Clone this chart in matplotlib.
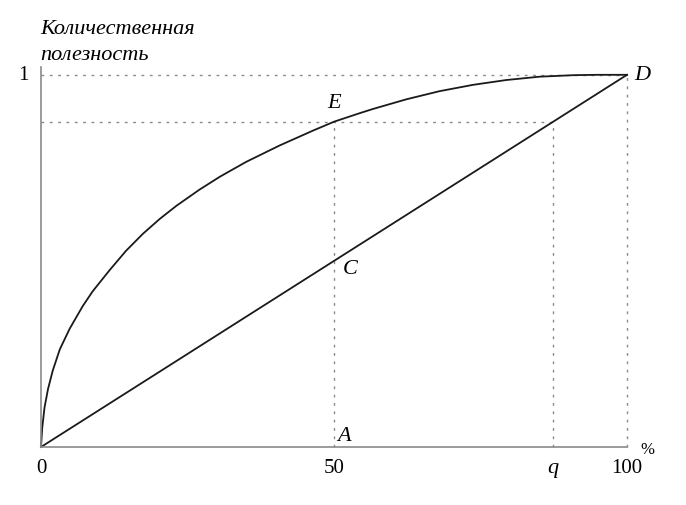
import matplotlib
matplotlib.use("Agg")
import matplotlib.pyplot as plt

# кривая количественной полезности (x в %, y в долях)
curve_x = [0, 0.2, 0.6, 1.2, 2.0, 3.2, 4.9, 7.1, 8.8, 11.7, 14.5, 17.4, 20.2, 23.1,
           27.0, 30.5, 35.0, 40.7, 46.4, 50.0, 54.4, 56.6, 62.3, 68.0, 73.7, 79.4,
           85.1, 90.8, 95.0, 100]
curve_y = [0, 0.050, 0.106, 0.156, 0.205, 0.262, 0.318, 0.378, 0.418, 0.475, 0.527,
           0.573, 0.612, 0.648, 0.691, 0.726, 0.766, 0.810, 0.850, 0.874, 0.897,
           0.908, 0.934, 0.956, 0.973, 0.986, 0.995, 0.999, 1.0, 1.0]
line_x = [0, 100]
line_y = [0, 1]

e_x, e_y = 50, 0.874
q_x = 87.4
d_x, d_y = 100, 1.0
x_ticks = [0, 50, 100]

plt.rcParams["font.family"] = ["Liberation Serif", "DejaVu Serif"]

fig = plt.figure(figsize=(6.86, 5.06), dpi=100)
ax = fig.add_axes([41 / 686, 58 / 506, 586 / 686, 380 / 506])
ax.set_xlim(0, 100)
ax.set_ylim(0, 1.021)
for s in ["top", "right"]:
    ax.spines[s].set_visible(False)
for s in ["left", "bottom"]:
    ax.spines[s].set_color("#8a8a8a")
    ax.spines[s].set_linewidth(1.2)
ax.set_xticks([])
ax.set_yticks([])

# пунктирные направляющие
dot = dict(color="#8a8a8a", lw=1.0, ls=(0, (2, 4)), clip_on=False)
ax.plot([0, d_x], [d_y, d_y], **dot)
ax.plot([0, q_x], [e_y, e_y], **dot)
ax.plot([e_x, e_x], [0, e_y], **dot)
ax.plot([q_x, q_x], [0, e_y], **dot)
ax.plot([d_x, d_x], [0, d_y], **dot)

ax.plot(curve_x, curve_y, color="#1a1a1a", lw=1.3, solid_joinstyle="round", clip_on=False)
ax.plot(line_x, line_y, color="#1a1a1a", lw=1.3, clip_on=False)

fs = 15
for t in x_ticks:
    ax.text(t, -0.03, str(t), ha="center", va="top", fontsize=fs)
ax.text(q_x, -0.03, "q", ha="center", va="top", fontsize=16, style="italic")
ax.text(-2.2, 1.0, "1", ha="right", va="center", fontsize=fs)
ax.text(102.2, -0.005, "%", ha="left", va="center", fontsize=12)

ax.text(e_x, e_y + 0.025, "E", ha="center", va="bottom", fontsize=16, style="italic")
ax.text(e_x + 1.5, 0.48, "C", ha="left", va="center", fontsize=16, style="italic")
ax.text(e_x + 0.5, 0.03, "A", ha="left", va="center", fontsize=16, style="italic")
ax.text(d_x + 1.2, d_y, "D", ha="left", va="center", fontsize=16, style="italic")

fig.text(40 / 686, 1 - 30 / 506, "Количественная", ha="left", va="center",
         fontsize=16, style="italic")
fig.text(40 / 686, 1 - 55 / 506, "полезность", ha="left", va="center",
         fontsize=16, style="italic")

fig.savefig("out.png", dpi=100)
